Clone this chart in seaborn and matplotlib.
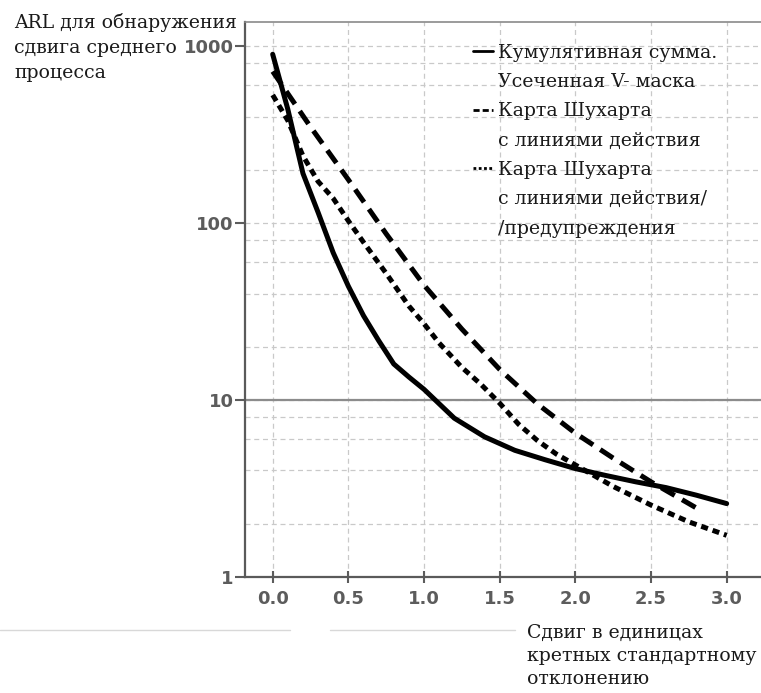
import matplotlib
matplotlib.use("Agg")
import matplotlib.pyplot as plt
from matplotlib.lines import Line2D
from matplotlib.ticker import FixedLocator, NullFormatter
import seaborn as sns

# Shift of the process mean, in standard deviations, and average run length (ARL)
shift_cusum = [0.0, 0.1, 0.2, 0.3, 0.4, 0.5, 0.6, 0.7, 0.8, 0.9, 1.0,
               1.2, 1.4, 1.6, 1.8, 2.0, 2.2, 2.4, 2.6, 2.8, 3.0]
arl_cusum = [900, 440, 191, 115, 68, 44, 30, 21.7, 16, 13.5, 11.5,
             7.9, 6.2, 5.2, 4.6, 4.1, 3.75, 3.45, 3.2, 2.9, 2.6]

shift_action = [0.0, 0.25, 0.5, 0.75, 1.0, 1.25, 1.5, 1.75, 2.0, 2.25, 2.5, 2.75, 2.82]
arl_action = [720, 350, 176, 87, 44.6, 25.2, 14.9, 9.5, 6.5, 4.7, 3.45, 2.6, 2.4]

shift_warning = [0.0, 0.1, 0.2, 0.3, 0.4, 0.5, 0.6, 0.75, 0.9, 1.0, 1.1,
                 1.25, 1.375, 1.5, 1.625, 1.75, 1.875, 2.0, 2.25, 2.5, 2.75, 3.0]
arl_warning = [530, 380, 240, 172, 138, 103, 78, 52, 34, 27, 21,
               15.3, 12.3, 9.6, 7.3, 5.9, 4.95, 4.3, 3.25, 2.55, 2.05, 1.72]

x_ticks = [0.0, 0.5, 1.0, 1.5, 2.0, 2.5, 3.0]
x_tick_labels = ["0.0", "0.5", "1.0", "1.5", "2.0", "2.5", "3.0"]
y_ticks = [1, 10, 100, 1000]
y_tick_labels = ["1", "10", "100", "1000"]
y_minor = [2, 4, 6, 8, 20, 40, 60, 80, 200, 400, 600, 800]

legend_rows = [
    ("Кумулятивная сумма.", "solid"),
    ("Усеченная V- маска", None),
    ("Карта Шухарта", "dashed"),
    ("с линиями действия", None),
    ("Карта Шухарта", "dotted"),
    ("с линиями действия/", None),
    ("/предупреждения", None),
]

y_title_lines = ["ARL для обнаружения", "сдвига среднего", "процесса"]
x_title = "Сдвиг в единицах\nкретных стандартному\nотклонению"

sns.set_style("white")
plt.rcParams["font.family"] = ["DejaVu Sans"]

TEXT_FONT = "DejaVu Serif"
TEXT_SIZE = 13.6
TICK_GREY = "#5c5c5c"
GRID_GREY = "#c9c9c9"

fig = plt.figure(figsize=(7.61, 6.93), dpi=100)
ax = fig.add_axes([245 / 761, 1 - 577 / 693, 1 - 245 / 761, (577 - 22) / 693])

LW = 3.6
dash_long = (0, (3.1, 1.7))
dash_dot = (0, (1.4, 1.0))

sns.lineplot(x=shift_cusum, y=arl_cusum, ax=ax, color="black", lw=LW,
             linestyle="-", zorder=5)
sns.lineplot(x=shift_action, y=arl_action, ax=ax, color="black", lw=LW,
             linestyle=dash_long, zorder=5)
sns.lineplot(x=shift_warning, y=arl_warning, ax=ax, color="black", lw=LW,
             linestyle=dash_dot, zorder=5)

ax.set_yscale("log")
ax.set_xlim(-0.183, 3.227)
ax.set_ylim(1, 1370)

ax.set_xticks(x_ticks)
ax.set_xticklabels(x_tick_labels)
ax.yaxis.set_major_locator(FixedLocator(y_ticks))
ax.set_yticklabels(y_tick_labels)
ax.yaxis.set_minor_locator(FixedLocator(y_minor))
ax.yaxis.set_minor_formatter(NullFormatter())

for lab in ax.get_xticklabels() + ax.get_yticklabels():
    lab.set_fontweight("bold")
    lab.set_fontsize(13)
    lab.set_color(TICK_GREY)

ax.tick_params(axis="y", which="major", direction="out", length=7, width=1.5,
               color=TICK_GREY, pad=1, left=True)
ax.tick_params(axis="y", which="minor", length=0)
ax.tick_params(axis="x", which="major", direction="inout", length=9, width=1.5,
               color=TICK_GREY, pad=5, bottom=True)

# dashed grid, with a solid reference line at ARL = 10
ax.grid(True, which="major", axis="x", color=GRID_GREY, lw=0.9, linestyle=(0, (4, 3)))
ax.grid(True, which="both", axis="y", color=GRID_GREY, lw=0.9, linestyle=(0, (4, 3)))
ax.axhline(10, color="#8c8c8c", lw=1.6, zorder=2)
ax.set_axisbelow(True)

for side in ("left", "bottom"):
    ax.spines[side].set_color("#5a5a5a")
    ax.spines[side].set_linewidth(1.6)
ax.spines["top"].set_color("#8a8a8a")
ax.spines["top"].set_linewidth(1.2)
ax.spines["right"].set_visible(False)

ax.set_xlabel("")
ax.set_ylabel("")

# legend: one row per text line, the marker only on the first line of each entry
handle_styles = {
    "solid": dict(linestyle="-"),
    "dashed": dict(linestyle=(0, (2.2, 1.1))),
    "dotted": dict(linestyle=(0, (1.0, 0.9))),
}
handles, labels = [], []
for text, kind in legend_rows:
    if kind is None:
        handles.append(Line2D([], [], color="none", lw=2))
    else:
        handles.append(Line2D([], [], color="black", lw=2, **handle_styles[kind]))
    labels.append(text)

leg = ax.legend(handles, labels, loc="upper left", bbox_to_anchor=(0.442, 0.961),
                frameon=False, borderpad=0, borderaxespad=0, handlelength=1.05,
                handletextpad=0.25, labelspacing=0.6,
                prop={"family": TEXT_FONT, "size": TEXT_SIZE})
for t in leg.get_texts():
    t.set_color("#1a1a1a")

# axis titles placed as free text beside the axes
for i, line in enumerate(y_title_lines):
    fig.text(14 / 761, 1 - (28 + 25 * i) / 693, line, ha="left", va="baseline",
             family=TEXT_FONT, fontsize=TEXT_SIZE, color="#1a1a1a")
fig.text(527 / 761, 1 - 624 / 693, x_title, ha="left", va="top",
         family=TEXT_FONT, fontsize=TEXT_SIZE, linespacing=1.36, color="#1a1a1a")

# thin rules under the tick labels
for x0, x1 in ((0, 290), (330, 515)):
    fig.add_artist(Line2D([x0 / 761, x1 / 761], [1 - 630 / 693] * 2,
                          transform=fig.transFigure, color="#d8d8d8", lw=1))

fig.savefig("out.png", dpi=100)
